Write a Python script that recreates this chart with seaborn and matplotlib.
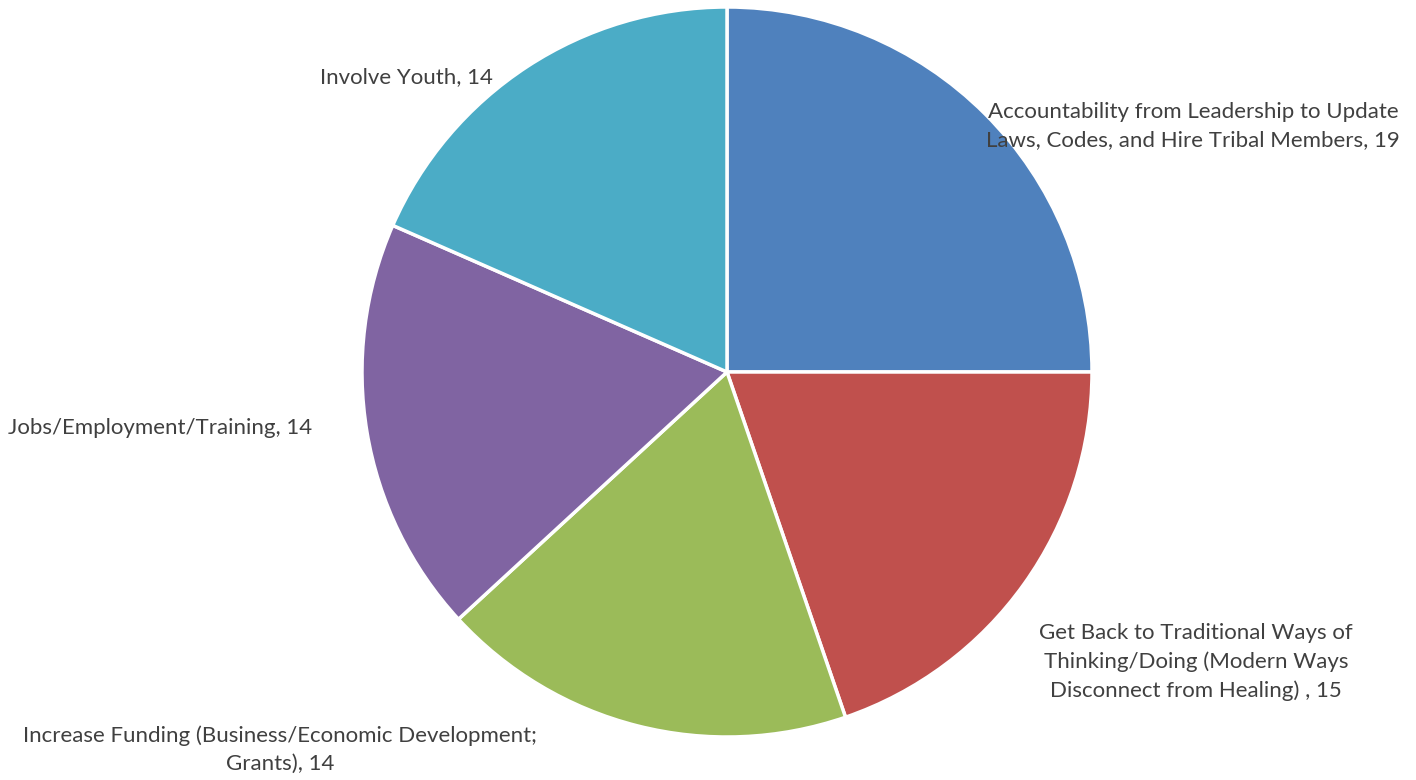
import matplotlib
matplotlib.use("Agg")
import matplotlib.pyplot as plt
import seaborn as sns

categories = [
    "Accountability from Leadership to Update\nLaws, Codes, and Hire Tribal Members",
    "Get Back to Traditional Ways of\nThinking/Doing (Modern Ways\nDisconnect from Healing) ",
    "Increase Funding (Business/Economic Development;\nGrants)",
    "Jobs/Employment/Training",
    "Involve Youth",
]
values = [19, 15, 14, 14, 14]
colors = ["#4F81BD", "#C0504D", "#9BBB59", "#8064A2", "#4BACC6"]

# label centres in pixels (x, y from top)
label_pos = [(1193, 126), (1196, 662), (280, 750), (160, 428), (406, 77)]

sns.set_theme(style="white")
plt.rcParams['font.family'] = ['Lato', 'DejaVu Sans']

W, H = 1416, 780
fig = plt.figure(figsize=(W / 100, H / 100), dpi=100)
cx, cy, r = 727, 372, 365
ax = fig.add_axes([(cx - r) / W, (H - cy - r) / H, 2 * r / W, 2 * r / H])
ax.pie(values, colors=colors, startangle=90, counterclock=False,
       wedgeprops=dict(edgecolor="white", linewidth=2.5), radius=1)
ax.set_xlim(-1, 1)
ax.set_ylim(-1, 1)
ax.set_aspect("equal")
ax.axis("off")

for cat, val, (px, py) in zip(categories, values, label_pos):
    fig.text(px / W, 1 - py / H, f"{cat}, {val}", ha="center", va="center",
             fontsize=16, color="#404040", linespacing=1.5)

fig.savefig("out.png", dpi=100, facecolor="white")
